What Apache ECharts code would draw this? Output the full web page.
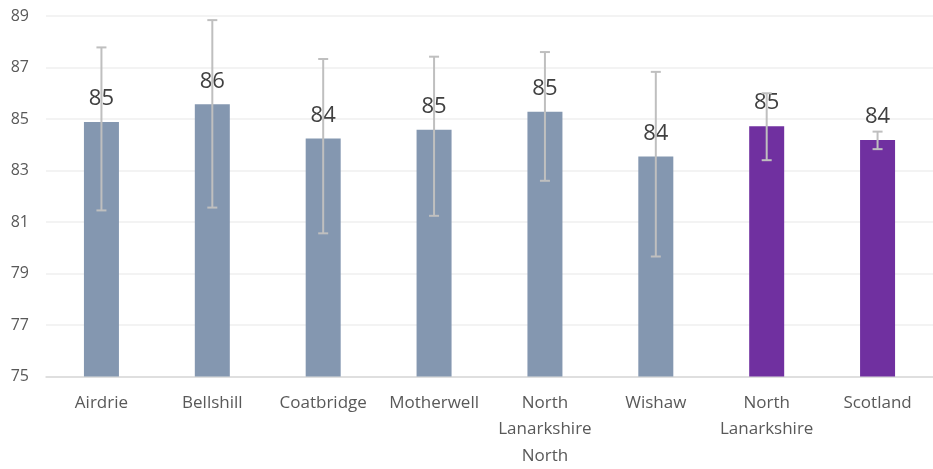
<!DOCTYPE html>
<html>
<head>
<meta charset="utf-8">
<script src="https://cdn.jsdelivr.net/npm/echarts@6/dist/echarts.min.js"></script>
<style>
html,body{margin:0;padding:0;background:#fff;}
#chart{width:933px;height:469px;}
</style>
</head>
<body>
<div id="chart"></div>
<script>
const categories = ['Airdrie', 'Bellshill', 'Coatbridge', 'Motherwell', 'North\nLanarkshire\nNorth', 'Wishaw', 'North\nLanarkshire', 'Scotland'];
const values = [84.88, 85.57, 84.24, 84.58, 85.28, 83.54, 84.72, 84.18];
const lower = [81.45, 81.56, 80.56, 81.24, 82.60, 79.66, 83.40, 83.83];
const upper = [87.78, 88.84, 87.33, 87.42, 87.60, 86.83, 86.00, 84.51];
const barColors = ['#8497B0', '#8497B0', '#8497B0', '#8497B0', '#8497B0', '#8497B0', '#7030A0', '#7030A0'];
const yTicks = [75, 77, 79, 81, 83, 85, 87, 89];

const FONT = '"Open Sans", sans-serif';
const chart = echarts.init(document.getElementById('chart'), null, {renderer: 'canvas'});

chart.setOption({
  animation: false,
  grid: {left: 46, top: 16, width: 896, bottom: 92, containLabel: false},
  xAxis: {
    type: 'category',
    data: categories,
    axisLine: {show: true, lineStyle: {color: '#d9d9d9', width: 1.5}},
    axisTick: {show: false},
    axisLabel: {color: '#595959', fontSize: 17, fontFamily: FONT, margin: 13, lineHeight: 26.5, interval: 0}
  },
  yAxis: {
    type: 'value',
    min: 75,
    max: 89,
    interval: 1,
    axisLine: {show: false},
    axisTick: {show: false},
    axisLabel: {
      color: '#595959', fontSize: 16, fontFamily: FONT, margin: 17,
      formatter: v => yTicks.indexOf(v) >= 0 ? String(v) : ''
    },
    splitLine: {show: true, lineStyle: {color: ['#efefef', 'rgba(0,0,0,0)'], width: 1.5}}
  },
  series: [
    {
      type: 'bar',
      barWidth: 35,
      z: 2,
      data: values.map((v, i) => ({value: v, itemStyle: {color: barColors[i]}})),
      label: {
        show: true,
        position: 'top',
        distance: 12,
        color: '#404040',
        fontSize: 22,
        fontFamily: FONT,
        formatter: p => Math.round(p.value)
      }
    },
    {
      type: 'custom',
      z: 3,
      data: categories.map((c, i) => [i, lower[i], upper[i]]),
      renderItem: function (params, api) {
        const x = api.value(0);
        const lo = api.coord([x, api.value(1)]);
        const hi = api.coord([x, api.value(2)]);
        const hw = 5;
        const style = {stroke: '#bfbfbf', lineWidth: 2, fill: null};
        return {
          type: 'group',
          children: [
            {type: 'line', shape: {x1: lo[0], y1: lo[1], x2: hi[0], y2: hi[1]}, style: style},
            {type: 'line', shape: {x1: lo[0] - hw, y1: lo[1], x2: lo[0] + hw, y2: lo[1]}, style: style},
            {type: 'line', shape: {x1: hi[0] - hw, y1: hi[1], x2: hi[0] + hw, y2: hi[1]}, style: style}
          ]
        };
      }
    }
  ]
});
</script>
</body>
</html>
